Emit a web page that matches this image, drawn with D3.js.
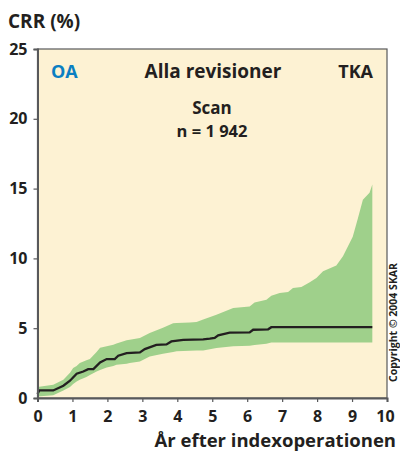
<!DOCTYPE html>
<html>
<head>
<meta charset="utf-8">
<script src="https://cdn.jsdelivr.net/npm/d3@7"></script>
<style>
  body { margin: 0; background: #fff; }
  text { font-family: "Open Sans", "DejaVu Sans", sans-serif; font-weight: bold; fill: #231f20; }
</style>
</head>
<body>
<div id="chart"></div>
<script>
var width = 400,
    height = 454;

// median CRR line (years, %)
var lineYears = [0, 0.05, 0.45, 0.74, 0.93, 1.12, 1.31, 1.45, 1.6, 1.79, 1.98, 2.21, 2.31, 2.55, 2.93, 3.07, 3.4, 3.69, 3.83, 4.17, 4.74, 4.93, 5.07, 5.17, 5.5, 6.07, 6.17, 6.6, 6.69, 9.58];
var lineValues = [0.29, 0.54, 0.54, 0.88, 1.24, 1.74, 1.9, 2.07, 2.07, 2.55, 2.79, 2.79, 3.03, 3.22, 3.27, 3.5, 3.8, 3.84, 4.05, 4.17, 4.2, 4.25, 4.3, 4.49, 4.68, 4.7, 4.89, 4.92, 5.07, 5.07];

// confidence band
var bandYears = [0, 0.45, 0.74, 0.93, 1.02, 1.12, 1.21, 1.4, 1.5, 1.69, 1.79, 1.98, 2.17, 2.26, 2.55, 2.64, 2.93, 3.21, 3.59, 3.88, 3.98, 4.36, 4.55, 4.74, 5.12, 5.6, 6.07, 6.21, 6.55, 6.69, 6.93, 7.17, 7.31, 7.55, 7.79, 7.98, 8.17, 8.55, 8.74, 9.02, 9.17, 9.31, 9.5, 9.58];
var bandLower = [0.1, 0.2, 0.54, 0.79, 1.0, 1.19, 1.3, 1.5, 1.65, 1.9, 2.0, 2.19, 2.3, 2.38, 2.45, 2.5, 2.62, 2.98, 3.17, 3.3, 3.34, 3.38, 3.41, 3.41, 3.58, 3.7, 3.75, 3.8, 3.89, 3.98, 3.98, 3.98, 3.98, 3.98, 3.98, 3.98, 3.98, 3.98, 3.98, 3.98, 3.98, 3.98, 3.98, 3.98];
var bandUpper = [0.79, 0.95, 1.31, 1.8, 2.15, 2.3, 2.5, 2.7, 2.79, 3.3, 3.6, 3.7, 3.82, 3.9, 4.13, 4.18, 4.3, 4.66, 5.04, 5.35, 5.37, 5.4, 5.45, 5.62, 5.96, 6.44, 6.55, 6.84, 7.04, 7.33, 7.52, 7.6, 7.88, 7.96, 8.29, 8.6, 9.08, 9.49, 10.16, 11.55, 12.9, 14.2, 14.7, 15.3];

var xTicks = [0, 1, 2, 3, 4, 5, 6, 7, 8, 9, 10];
var yTicks = [0, 5, 10, 15, 20, 25];

var margin = {left: 37.5, right: 13, top: 49, bottom: 56};

var x = d3.scaleLinear().domain([0, 10]).range([margin.left, width - margin.right]);
var y = d3.scaleLinear().domain([0, 25]).range([height - margin.bottom, margin.top]);

var svg = d3.select('#chart').append('svg')
    .attr('width', width)
    .attr('height', height);

// plot background
svg.append('rect')
    .attr('x', x(0)).attr('y', y(25))
    .attr('width', x(10) - x(0)).attr('height', y(0) - y(25))
    .style('fill', '#fdf2d3')
    .style('stroke', '#58595b')
    .style('stroke-width', 1.2);

var band = bandYears.map(function (d, i) {
    return {t: d, lo: bandLower[i], hi: bandUpper[i]};
});

svg.append('path')
    .datum(band)
    .attr('d', d3.area()
        .x(function (d) { return x(d.t); })
        .y0(function (d) { return y(d.lo); })
        .y1(function (d) { return y(d.hi); }))
    .style('fill', '#9fd08b');

var line = lineYears.map(function (d, i) { return {t: d, v: lineValues[i]}; });

svg.append('path')
    .datum(line)
    .attr('d', d3.line()
        .x(function (d) { return x(d.t); })
        .y(function (d) { return y(d.v); }))
    .style('fill', 'none')
    .style('stroke', '#231f20')
    .style('stroke-width', 2.3);

// axes
var xAxis = svg.append('g')
    .attr('transform', 'translate(0,' + y(0) + ')')
    .call(d3.axisBottom(x).tickValues(xTicks).tickSize(4).tickPadding(5).tickFormat(d3.format('d')));
var yAxis = svg.append('g')
    .attr('transform', 'translate(' + x(0) + ',0)')
    .call(d3.axisLeft(y).tickValues(yTicks).tickSize(4).tickPadding(6).tickFormat(d3.format('d')));

[xAxis, yAxis].forEach(function (g) {
    g.select('.domain').style('stroke', '#58595b').style('stroke-width', 2);
    g.selectAll('.tick line').style('stroke', '#58595b').style('stroke-width', 1.2);
    g.selectAll('.tick text').style('font-size', '16px').style('font-family', '"Open Sans", sans-serif')
        .style('font-weight', 'bold').style('fill', '#231f20');
});
xAxis.selectAll('.tick text').attr('dy', '0.95em');
xAxis.selectAll('.tick').filter(function (d) { return d === 10; }).select('text').attr('dx', '-2');

// labels
svg.append('text').attr('x', 8).attr('y', 28).style('font-size', '19px').text('CRR (%)');
svg.append('text').attr('x', 396).attr('y', 447).attr('text-anchor', 'end')
    .style('font-size', '18.5px').text('År efter indexoperationen');

svg.append('text').attr('x', 51).attr('y', 78).style('font-size', '18px')
    .style('fill', '#0a7fc2').text('OA');
svg.append('text').attr('x', 213).attr('y', 78).attr('text-anchor', 'middle')
    .style('font-size', '19px').text('Alla revisioner');
svg.append('text').attr('x', 373).attr('y', 78).attr('text-anchor', 'end')
    .style('font-size', '18px').text('TKA');
svg.append('text').attr('x', 212).attr('y', 114).attr('text-anchor', 'middle')
    .style('font-size', '17px').text('Scan');
svg.append('text').attr('x', 212).attr('y', 137).attr('text-anchor', 'middle')
    .style('font-size', '16.5px').text('n = 1 942');

svg.append('text')
    .attr('transform', 'translate(397,382) rotate(-90)')
    .style('font-size', '10.5px')
    .text('Copyright © 2004 SKAR');
</script>
</body>
</html>
